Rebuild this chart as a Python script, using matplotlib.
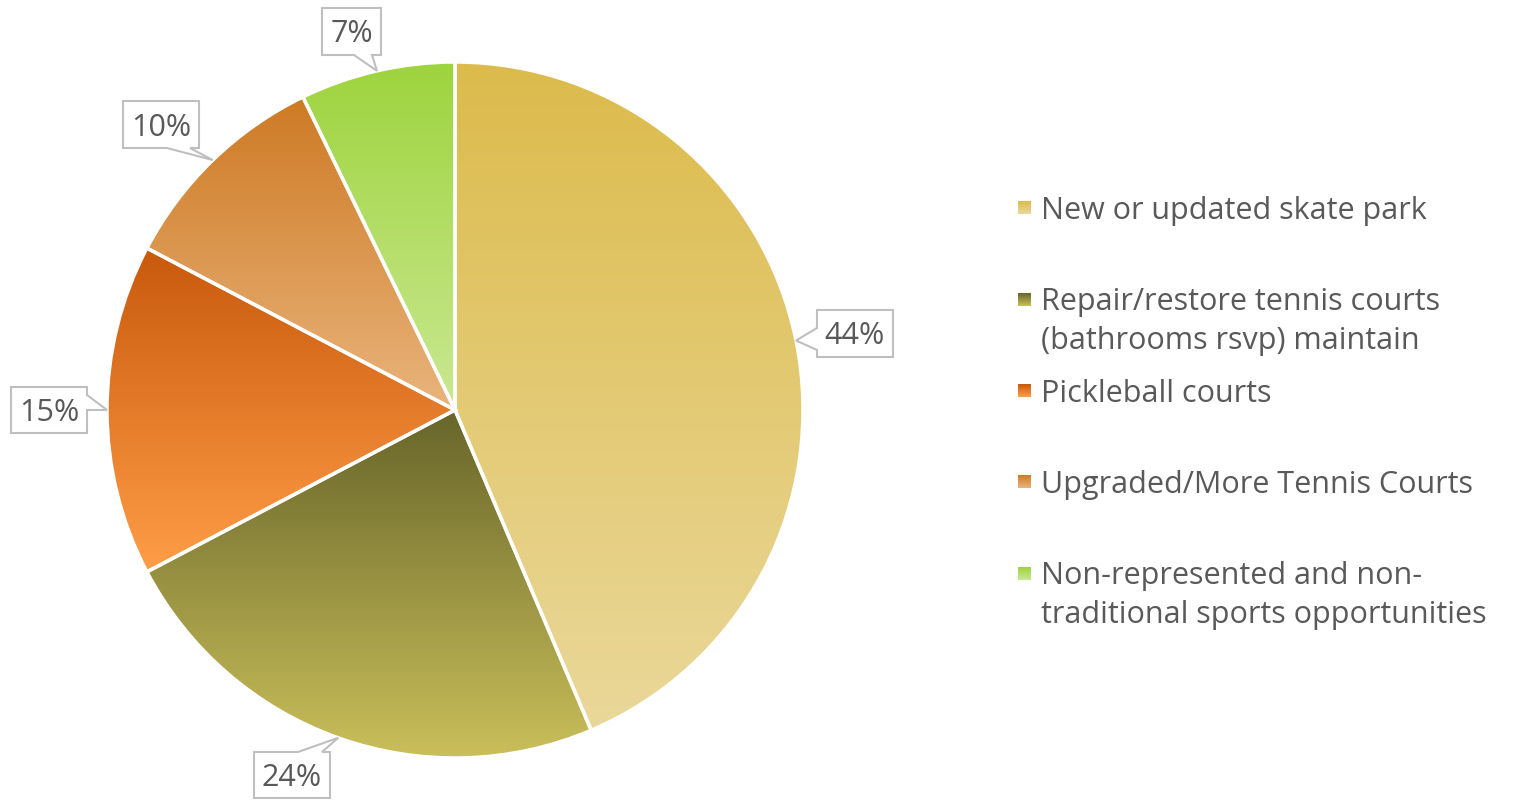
import numpy as np
import matplotlib.pyplot as plt
from matplotlib.colors import to_rgb
from matplotlib.patches import Polygon

plt.rcParams['font.family'] = ['Open Sans', 'DejaVu Sans']

categories = ['New or updated skate park',
              'Repair/restore tennis courts\n(bathrooms rsvp) maintain',
              'Pickleball courts',
              'Upgraded/More Tennis Courts',
              'Non-represented and non-\ntraditional sports opportunities']
shares = [43.6, 23.7, 15.4, 10.1, 7.2]
# gradient (top colour, bottom colour) for each slice
grad_top = ['#DCBB4C', '#67652A', '#C8590D', '#CE7A24', '#9ED43E']
grad_bot = ['#EAD89A', '#CABF5A', '#FF9D47', '#E9B47C', '#CAE892']

TEXT = '#595959'
W, H = 1523, 800
CX, CY, R = 455, 410, 348


def gradient(top, bottom, n=256):
    t = np.linspace(0, 1, n)[:, None, None]
    return (1 - t) * np.array(to_rgb(top)) + t * np.array(to_rgb(bottom))


def callout(box, side, base, tip):
    x0, y0, x1, y1 = box
    a, b = base
    pts = [(x0, y0)]
    if side == 'top':
        pts += [(a, y0), tip, (b, y0)]
    pts += [(x1, y0)]
    if side == 'right':
        pts += [(x1, a), tip, (x1, b)]
    pts += [(x1, y1)]
    if side == 'bottom':
        pts += [(b, y1), tip, (a, y1)]
    pts += [(x0, y1)]
    if side == 'left':
        pts += [(x0, b), tip, (x0, a)]
    return pts


fig = plt.figure(figsize=(W / 100, H / 100), dpi=100)
ax = fig.add_axes([0, 0, 1, 1])

# y axis points down, so data-counterclockwise looks clockwise
wedges, _ = ax.pie(shares, startangle=-90, counterclock=True,
                   center=(CX, CY), radius=R,
                   wedgeprops=dict(facecolor='none', edgecolor='white',
                                   linewidth=2.5, zorder=3))

for w, c0, c1 in zip(wedges, grad_top, grad_bot):
    ext = w.get_path().get_extents()
    im = ax.imshow(gradient(c0, c1), extent=(ext.x0, ext.x1, ext.y1, ext.y0),
                   origin='upper', aspect='auto', zorder=2, interpolation='bilinear')
    im.set_clip_path(w)

# data labels in callout boxes
label_boxes = [((817, 310, 893, 357), 'left', (328, 350)),
               ((254, 752, 330, 798), 'top', (298, 322)),
               ((11, 387, 87, 433), 'right', (395, 410)),
               ((123, 101, 199, 148), 'bottom', (167, 190)),
               ((322, 8, 381, 55), 'bottom', (354, 372))]
for w, v, (box, side, base) in zip(wedges, shares, label_boxes):
    mid = np.deg2rad((w.theta1 + w.theta2) / 2)
    tip = (CX + R * np.cos(mid), CY + R * np.sin(mid))
    ax.add_patch(Polygon(callout(box, side, base, tip), closed=True,
                         facecolor='white', edgecolor='#BFBFBF', linewidth=1.5, zorder=4))
    ax.text((box[0] + box[2]) / 2, (box[1] + box[3]) / 2 + 3, f'{round(v)}%', ha='center',
            va='center', fontsize=22, color=TEXT, zorder=5)

# legend
for i, (name, c0, c1) in enumerate(zip(categories, grad_top, grad_bot)):
    y = 208 + 91.3 * i
    ax.imshow(gradient(c0, c1, 32), extent=(1018, 1031, y + 6.5, y - 6.5),
              origin='upper', aspect='auto', zorder=2)
    for j, line in enumerate(name.split('\n')):
        ax.text(1041, y + 3 + 39 * j, line, ha='left', va='center', fontsize=22, color=TEXT)

ax.set_xlim(0, W)
ax.set_ylim(H, 0)
ax.set_aspect('auto')
ax.axis('off')

fig.savefig('out.png', dpi=100, facecolor='white')
